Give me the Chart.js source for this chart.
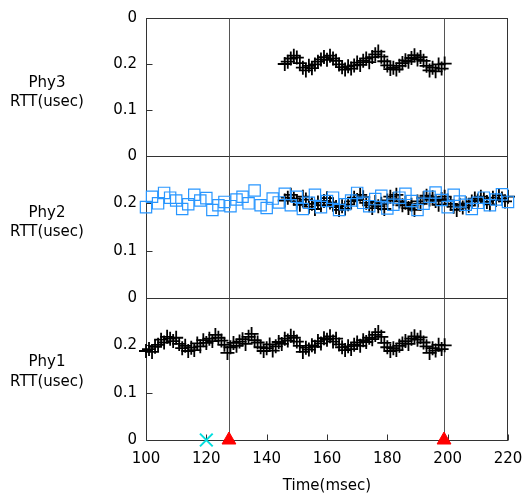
<!DOCTYPE html>
<html>
<head>
<meta charset="utf-8">
<script src="https://cdn.jsdelivr.net/npm/chart.js@4"></script>
<style>
    body { margin: 0; background: #fff; }
    #wrap { position: relative; width: 525px; height: 498px; }
    #wrap canvas { position: absolute; left: 0; top: 0; }
</style>
</head>
<body>
<div id="wrap">
    <canvas id="phy3" width="525" height="498"></canvas>
    <canvas id="phy2" width="525" height="498"></canvas>
    <canvas id="phy1" width="525" height="498"></canvas>
</div>
<script>
// Phy1 RTT samples (black +), 100..199 msec
const phy1Times = [
    100, 101, 102, 103, 104, 105, 106, 107, 108, 109,
    110, 111, 112, 113, 114, 115, 116, 117, 118, 119,
    120, 121, 122, 123, 124, 125, 126, 127, 128, 129,
    130, 131, 132, 133, 134, 135, 136, 137, 138, 139,
    140, 141, 142, 143, 144, 145, 146, 147, 148, 149,
    150, 151, 152, 153, 154, 155, 156, 157, 158, 159,
    160, 161, 162, 163, 164, 165, 166, 167, 168, 169,
    170, 171, 172, 173, 174, 175, 176, 177, 178, 179,
    180, 181, 182, 183, 184, 185, 186, 187, 188, 189,
    190, 191, 192, 193, 194, 195, 196, 197, 198, 199
];
const phy1Rtt = [
    0.188, 0.192, 0.186, 0.197, 0.201, 0.212, 0.206, 0.218, 0.214, 0.209,
    0.216, 0.203, 0.194, 0.199, 0.188, 0.195, 0.190, 0.204, 0.198, 0.211,
    0.205, 0.214, 0.209, 0.222, 0.216, 0.210, 0.201, 0.184, 0.196, 0.205,
    0.199, 0.208, 0.213, 0.203, 0.218, 0.224, 0.211, 0.206, 0.196, 0.188,
    0.194, 0.202, 0.189, 0.198, 0.207, 0.203, 0.214, 0.210, 0.220, 0.216,
    0.208, 0.199, 0.186, 0.195, 0.191, 0.200, 0.197, 0.209, 0.204, 0.215,
    0.212, 0.219, 0.208, 0.214, 0.202, 0.196, 0.190, 0.198, 0.192, 0.201,
    0.206, 0.199, 0.211, 0.207, 0.216, 0.213, 0.222, 0.228, 0.218, 0.205,
    0.196, 0.188, 0.194, 0.190, 0.199, 0.204, 0.209, 0.203, 0.214, 0.219,
    0.212, 0.217, 0.206, 0.198, 0.184, 0.194, 0.189, 0.201, 0.192, 0.200
];

// Phy3 RTT samples (black +), 146..199 msec
const phy3Times = [
    146, 147, 148, 149,
    150, 151, 152, 153, 154, 155, 156, 157, 158, 159,
    160, 161, 162, 163, 164, 165, 166, 167, 168, 169,
    170, 171, 172, 173, 174, 175, 176, 177, 178, 179,
    180, 181, 182, 183, 184, 185, 186, 187, 188, 189,
    190, 191, 192, 193, 194, 195, 196, 197, 198, 199
];
const phy3Rtt = [
    0.200, 0.205, 0.212, 0.218,
    0.214, 0.202, 0.192, 0.186, 0.196, 0.191, 0.199, 0.205, 0.210, 0.215,
    0.209, 0.218, 0.212, 0.207, 0.199, 0.193, 0.188, 0.195, 0.190, 0.197,
    0.203, 0.198, 0.207, 0.212, 0.204, 0.215, 0.221, 0.227, 0.216, 0.206,
    0.197, 0.189, 0.192, 0.188, 0.196, 0.202, 0.208, 0.205, 0.213, 0.219,
    0.210, 0.215, 0.207, 0.196, 0.186, 0.192, 0.184, 0.199, 0.190, 0.201
];

// Phy2 RTT samples (black +), 146..220 msec
const phy2Times = [
    146, 147, 148, 149,
    150, 151, 152, 153, 154, 155, 156, 157, 158, 159,
    160, 161, 162, 163, 164, 165, 166, 167, 168, 169,
    170, 171, 172, 173, 174, 175, 176, 177, 178, 179,
    180, 181, 182, 183, 184, 185, 186, 187, 188, 189,
    190, 191, 192, 193, 194, 195, 196, 197, 198, 199,
    200, 201, 202, 203, 204, 205, 206, 207, 208, 209,
    210, 211, 212, 213, 214, 215, 216, 217, 218, 219,
    220
];
const phy2Rtt = [
    0.206, 0.212, 0.218, 0.210,
    0.204, 0.197, 0.214, 0.208, 0.193, 0.199, 0.188, 0.202, 0.196, 0.205,
    0.211, 0.202, 0.197, 0.192, 0.186, 0.194, 0.189, 0.198, 0.204, 0.212,
    0.207, 0.218, 0.213, 0.201, 0.196, 0.190, 0.203, 0.194, 0.199, 0.188,
    0.206, 0.214, 0.209, 0.218, 0.204, 0.196, 0.201, 0.190, 0.197, 0.186,
    0.204, 0.199, 0.211, 0.216, 0.208, 0.213, 0.205, 0.197, 0.209, 0.214,
    0.206, 0.199, 0.193, 0.186, 0.197, 0.191, 0.200, 0.195, 0.204, 0.210,
    0.206, 0.214, 0.209, 0.203, 0.198, 0.212, 0.207, 0.217, 0.210, 0.204,
    0.214
];

// Phy2 second series (blue squares), 100..220 msec
const phy2bTimes = [
    100, 102, 104, 106, 108, 110, 112, 114, 116, 118,
    120, 122, 124, 126, 128, 130, 132, 134, 136, 138,
    140, 142, 144, 146, 148, 150, 152, 154, 156, 158,
    160, 162, 164, 166, 168, 170, 172, 174, 176, 178,
    180, 182, 184, 186, 188, 190, 192, 194, 196, 198,
    200, 202, 204, 206, 208, 210, 212, 214, 216, 218,
    220
];
const phy2bRtt = [
    0.192, 0.214, 0.200, 0.222, 0.212, 0.206, 0.188, 0.198, 0.218, 0.206,
    0.211, 0.186, 0.196, 0.203, 0.194, 0.208, 0.214, 0.200, 0.227, 0.196,
    0.190, 0.210, 0.202, 0.220, 0.196, 0.214, 0.188, 0.201, 0.218, 0.192,
    0.205, 0.212, 0.186, 0.198, 0.206, 0.222, 0.201, 0.194, 0.209, 0.216,
    0.189, 0.197, 0.212, 0.220, 0.205, 0.186, 0.199, 0.214, 0.223, 0.207,
    0.192, 0.218, 0.204, 0.197, 0.188, 0.201, 0.212, 0.196, 0.208, 0.219,
    0.203
];

// event markers on the time axis
const eventTimes = [127.5, 198.8];   // red triangles + vertical lines
const cyanTimes = [120];             // cyan x
const yTicks = [0, 0.1, 0.2, 0.3];
const xTicks = [100, 120, 140, 160, 180, 200, 220];

Chart.defaults.font.family = 'DejaVu Sans';
Chart.defaults.font.size = 15;
Chart.defaults.color = '#000';

const pts = (times, vals) => times.map((t, i) => ({ x: t, y: vals[i] }));

function plusSet(data) {
    return {
        data: data,
        showLine: false,
        clip: false,
        pointStyle: 'cross',
        pointRadius: 7,
        pointBorderWidth: 1.8,
        pointBorderColor: '#000',
        pointBackgroundColor: '#000'
    };
}

// frame, inward ticks, event lines and the horizontal panel label
const framePlugin = {
    id: 'frame',
    beforeDatasetsDraw(chart, args, opts) {
        const { ctx, chartArea: a, scales: { x, y } } = chart;
        const L = Math.round(a.left) + 0.5, R = Math.round(a.right) - 0.5;
        const T = Math.round(a.top) + 0.5, B = Math.round(a.bottom) + 0.5;
        ctx.save();
        ctx.lineWidth = 1;
        ctx.strokeStyle = '#333';
        ctx.strokeRect(L, T, R - L, B - T);

        ctx.beginPath();
        yTicks.forEach(v => {
            if (v > 0 && v < 0.3) {
                const py = Math.round(y.getPixelForValue(v)) + 0.5;
                ctx.moveTo(L, py);
                ctx.lineTo(L + 6, py);
            }
        });
        if (opts.xTicks) {
            xTicks.forEach(v => {
                const px = Math.round(x.getPixelForValue(v)) + 0.5;
                ctx.moveTo(px, B);
                ctx.lineTo(px, B - 6);
            });
        }
        ctx.stroke();

        ctx.strokeStyle = '#555';
        ctx.beginPath();
        eventTimes.forEach(t => {
            const px = Math.round(x.getPixelForValue(t)) + 0.5;
            ctx.moveTo(px, T);
            ctx.lineTo(px, B);
        });
        ctx.stroke();

        ctx.fillStyle = '#000';
        ctx.font = '15px "DejaVu Sans"';
        ctx.textAlign = 'center';
        ctx.textBaseline = 'middle';
        opts.label.forEach((s, i) => ctx.fillText(s, 47, opts.labelY[i]));
        ctx.restore();
    }
};

function makeChart(id, datasets, padTop, padBottom, showX, label, labelY) {
    return new Chart(document.getElementById(id).getContext('2d'), {
        type: 'scatter',
        data: { datasets: datasets },
        plugins: [framePlugin],
        options: {
            responsive: false,
            animation: false,
            devicePixelRatio: 1,
            events: [],
            layout: { padding: { left: 0, right: 17, top: padTop, bottom: padBottom } },
            plugins: {
                legend: { display: false },
                tooltip: { enabled: false },
                frame: { label: label, labelY: labelY, xTicks: showX }
            },
            scales: {
                x: {
                    type: 'linear',
                    display: showX,
                    min: 100,
                    max: 220,
                    grid: { display: false, drawTicks: false },
                    border: { display: false },
                    ticks: { stepSize: 20, padding: 10, maxRotation: 0, color: '#000' },
                    title: { display: true, text: 'Time(msec)', color: '#000', padding: { top: 0, bottom: 3 } },
                    afterFit: s => {
                        if (!showX) return;
                        s.height = 58;
                        s.paddingLeft = 0;
                        s.paddingRight = 0;
                    }
                },
                y: {
                    min: 0,
                    max: 0.3,
                    grid: { display: false, drawTicks: false },
                    border: { display: false },
                    ticks: {
                        stepSize: 0.1,
                        padding: 9,
                        color: '#000',
                        callback: v => {
                            if (Math.abs(v) < 1e-6) return '0';
                            if (Math.abs(v - 0.3) < 1e-6) return id === 'phy3' ? '0' : '';
                            return String(Math.round(v * 10) / 10);
                        }
                    },
                    afterFit: s => { s.width = 146; }
                }
            }
        }
    });
}

makeChart('phy3', [plusSet(pts(phy3Times, phy3Rtt))], 15, 342, false,
    ['Phy3', 'RTT(usec)'], [83, 102]);

makeChart('phy2', [
    {
        data: pts(phy2bTimes, phy2bRtt),
        showLine: false,
        clip: false,
        pointStyle: 'rect',
        pointRadius: 8,
        pointBorderWidth: 1.2,
        pointBorderColor: 'rgb(40,150,255)',
        pointBackgroundColor: 'rgba(0,0,0,0)'
    },
    plusSet(pts(phy2Times, phy2Rtt))
], 156, 200, false, ['Phy2', 'RTT(usec)'], [213, 232]);

makeChart('phy1', [
    {
        data: eventTimes.map(t => ({ x: t, y: 0 })),
        showLine: false,
        clip: false,
        pointStyle: 'triangle',
        pointRadius: 8,
        pointBorderWidth: 1,
        pointBorderColor: '#f00',
        pointBackgroundColor: '#f00'
    },
    {
        data: cyanTimes.map(t => ({ x: t, y: 0 })),
        showLine: false,
        clip: false,
        pointStyle: 'crossRot',
        pointRadius: 9,
        pointBorderWidth: 2,
        pointBorderColor: '#00dede',
        pointBackgroundColor: '#00dede'
    },
    plusSet(pts(phy1Times, phy1Rtt))
], 298, 0, true, ['Phy1', 'RTT(usec)'], [362, 382]);
</script>
</body>
</html>
